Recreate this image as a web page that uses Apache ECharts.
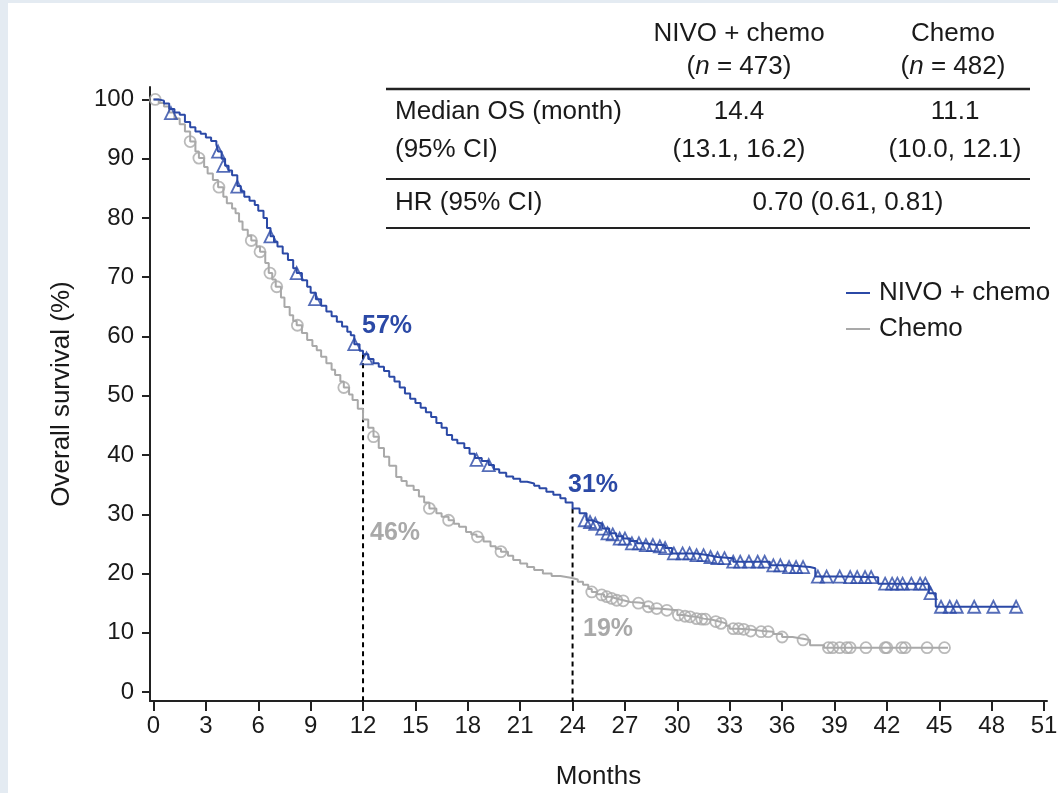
<!DOCTYPE html>
<html>
<head>
<meta charset="utf-8">
<script src="https://cdn.jsdelivr.net/npm/echarts@6/dist/echarts.min.js"></script>
<style>
  html, body { margin: 0; padding: 0; background: #e4ebf2; }
  #paper { position: absolute; left: 8px; top: 3px; width: 1050px; height: 790px; background: #fff; }
  #chart { position: absolute; left: 0; top: 0; width: 1058px; height: 793px; }
</style>
</head>
<body>
<div id="paper"></div>
<div id="chart"></div>
<script>
  // tick labels
  const monthTicks = [0, 3, 6, 9, 12, 15, 18, 21, 24, 27, 30, 33, 36, 39, 42, 45, 48, 51];
  const survivalTicks = [0, 10, 20, 30, 40, 50, 60, 70, 80, 90, 100];

  // KM curves: [month, survival %]
  const nivoCurve = [
    [0, 100], [0.3, 99.8], [0.6, 99.3], [0.9, 98.4], [1.2, 97.8], [1.5, 97.4], [1.8, 96.2],
    [2.1, 95.3], [2.4, 94.6], [2.7, 94.2], [3.0, 93.6], [3.3, 93.0], [3.6, 92.4], [3.7, 91.2],
    [3.9, 90.0], [4.1, 88.8], [4.3, 88.0], [4.5, 87.2], [4.8, 85.4], [5.0, 84.5], [5.2, 83.6],
    [5.5, 82.9], [5.8, 82.2], [6.0, 81.2], [6.3, 80.0], [6.5, 78.3], [6.7, 76.9], [6.9, 76.0],
    [7.1, 75.2], [7.4, 74.0], [7.7, 72.9], [8.0, 71.5], [8.2, 70.7], [8.5, 69.5], [8.8, 68.4],
    [9.0, 67.4], [9.3, 66.3], [9.6, 65.2], [9.9, 64.2], [10.2, 63.4], [10.5, 62.5], [10.8, 61.7],
    [11.1, 60.8], [11.3, 60.2], [11.5, 58.7], [11.8, 57.6], [12.0, 57.0], [12.3, 56.2], [12.6, 55.5],
    [12.9, 54.9], [13.2, 54.2], [13.5, 53.2], [13.8, 52.4], [14.1, 51.4], [14.4, 50.4], [14.7, 49.5],
    [15.0, 48.8], [15.3, 48.0], [15.6, 47.2], [15.9, 46.4], [16.2, 45.4], [16.5, 44.6], [16.8, 43.4],
    [17.1, 42.6], [17.4, 42.0], [17.8, 41.2], [18.1, 40.2], [18.4, 39.5], [18.8, 39.0], [19.2, 38.3],
    [19.5, 37.6], [19.8, 37.0], [20.2, 36.4], [20.6, 36.0], [21.0, 35.5], [21.4, 35.2], [21.8, 34.8],
    [22.1, 34.4], [22.5, 33.8], [22.9, 33.3], [23.3, 32.7], [23.6, 32.0], [24.0, 31.0], [24.4, 30.2],
    [24.8, 29.0], [25.1, 28.7], [25.4, 28.4], [25.7, 27.6], [26.1, 26.8], [26.5, 26.3], [26.9, 25.9],
    [27.3, 25.5], [27.7, 25.1], [28.2, 24.9], [28.6, 24.8], [29.3, 24.3], [29.7, 23.4], [31.1, 23.1],
    [31.8, 22.8], [32.3, 22.6], [33.2, 22.0], [35.3, 21.4], [36.3, 21.1], [37.6, 20.9], [37.9, 19.5],
    [39.6, 19.4], [41.5, 18.3], [44.4, 16.7], [44.8, 14.4], [49.5, 14.4]
  ];
  const chemoCurve = [
    [0, 100], [0.3, 99.4], [0.6, 98.8], [0.9, 97.8], [1.2, 96.8], [1.5, 95.8], [1.8, 94.6],
    [2.1, 92.9], [2.4, 91.2], [2.6, 90.1], [2.9, 88.6], [3.1, 87.5], [3.4, 86.4], [3.7, 85.2],
    [4.0, 83.6], [4.2, 82.5], [4.5, 81.6], [4.7, 80.8], [4.9, 79.4], [5.1, 78.0], [5.4, 77.0],
    [5.6, 76.2], [5.9, 75.2], [6.1, 74.3], [6.4, 72.4], [6.6, 70.7], [6.8, 69.6], [7.0, 68.4],
    [7.3, 66.6], [7.5, 65.0], [7.8, 63.6], [8.0, 62.6], [8.2, 61.9], [8.5, 60.6], [8.8, 59.4],
    [9.1, 58.4], [9.35, 57.7], [9.6, 56.6], [9.9, 55.5], [10.2, 54.4], [10.4, 53.5], [10.7, 52.4],
    [10.9, 51.4], [11.2, 50.2], [11.4, 49.3], [11.7, 47.8], [12.0, 46.0], [12.3, 44.6], [12.6, 43.1],
    [12.9, 41.2], [13.2, 39.7], [13.5, 38.2], [13.9, 36.3], [14.2, 35.6], [14.5, 34.8], [14.9, 34.1],
    [15.2, 33.0], [15.5, 32.0], [15.8, 31.0], [16.2, 30.2], [16.5, 29.6], [16.9, 29.0], [17.2, 28.4],
    [17.5, 27.9], [17.9, 27.0], [18.2, 26.6], [18.5, 26.2], [18.9, 25.4], [19.3, 24.6], [19.6, 24.2],
    [19.9, 23.7], [20.3, 23.0], [20.6, 22.3], [21.0, 21.7], [21.4, 21.1], [21.8, 20.6], [22.3, 20.0],
    [22.8, 19.6], [23.3, 19.3], [23.9, 19.0], [24.3, 18.6], [24.6, 18.1], [24.9, 17.4], [25.1, 16.9],
    [25.4, 16.5], [25.8, 16.1], [26.2, 15.8], [26.5, 15.5], [26.9, 15.2], [27.3, 15.1], [27.8, 15.0],
    [28.1, 14.5], [28.4, 14.1], [28.9, 14.0], [29.4, 13.8], [30.0, 13.0], [30.4, 12.8], [30.7, 12.7],
    [31.1, 12.4], [31.5, 12.2], [32.0, 11.9], [32.4, 11.6], [32.8, 11.2], [33.0, 10.7], [33.5, 10.6],
    [34.0, 10.5], [34.4, 10.3], [34.9, 10.2], [35.5, 9.8], [36.0, 9.3], [36.6, 9.0], [37.2, 8.8],
    [37.6, 7.9], [38.4, 7.5], [45.5, 7.5]
  ];

  // censoring marks
  const nivoCensored = [
    [1.0, 97.7], [3.7, 91.2], [4.0, 88.8], [4.8, 85.3], [6.7, 76.9], [8.2, 70.7], [9.25, 66.3],
    [11.5, 58.7], [12.2, 56.3], [18.5, 39.2], [19.2, 38.3],
    [24.7, 29.0], [25.0, 28.7], [25.3, 28.4], [25.7, 27.6], [26.0, 26.8], [26.3, 26.6], [26.7, 25.9],
    [27.0, 25.9], [27.4, 25.1], [27.8, 25.1], [28.2, 24.8], [28.6, 24.8], [29.0, 24.6], [29.3, 24.3],
    [29.8, 23.4], [30.3, 23.4], [30.7, 23.4], [31.1, 23.1], [31.5, 23.1], [31.9, 22.8], [32.3, 22.6],
    [32.7, 22.6], [33.2, 22.0], [33.6, 22.0], [34.1, 22.0], [34.6, 22.0], [35.0, 22.0], [35.5, 21.4],
    [35.9, 21.4], [36.4, 21.1], [36.8, 21.1], [37.2, 21.1], [38.05, 19.5], [38.55, 19.5], [39.3, 19.5],
    [39.9, 19.4], [40.3, 19.4], [40.75, 19.4], [41.1, 19.4], [41.9, 18.3], [42.3, 18.3], [42.6, 18.3],
    [42.9, 18.3], [43.4, 18.3], [43.9, 18.3], [44.2, 18.3], [44.5, 16.7], [45.1, 14.4], [45.6, 14.4],
    [46.0, 14.4], [47.0, 14.4], [48.1, 14.4], [49.4, 14.4]
  ];
  const chemoCensored = [
    [0.1, 100], [2.1, 92.9], [2.6, 90.1], [3.75, 85.2], [5.6, 76.2], [6.1, 74.3], [6.67, 70.7],
    [7.06, 68.4], [8.24, 61.9], [10.9, 51.4], [12.6, 43.1], [15.8, 31.0], [16.9, 29.0], [18.55, 26.2],
    [19.9, 23.7], [25.1, 16.9], [25.67, 16.4], [25.96, 16.1], [26.24, 15.8], [26.53, 15.5], [26.9, 15.4],
    [27.77, 15.0], [28.34, 14.4], [28.82, 14.1], [29.4, 13.8], [30.06, 13.0], [30.44, 12.8], [30.73, 12.7],
    [31.1, 12.4], [31.4, 12.3], [31.6, 12.3], [32.2, 11.9], [32.5, 11.6], [33.2, 10.7], [33.5, 10.7],
    [33.8, 10.6], [34.2, 10.3], [34.8, 10.2], [35.2, 10.2], [36.0, 9.3], [37.2, 8.8], [38.65, 7.5],
    [38.9, 7.5], [39.3, 7.5], [39.7, 7.5], [39.9, 7.5], [40.8, 7.5], [41.9, 7.5], [42.0, 7.5],
    [42.85, 7.5], [43.05, 7.5], [44.3, 7.5], [45.3, 7.5]
  ];

  // landmark survival at 12 and 24 months
  const landmarkMonths = [12, 24];
  const nivoLandmark = [57, 31];
  const chemoLandmark = [46, 19];

  const blue = '#2b49a6';
  const grey = '#a9a9a9';
  const ink = '#1a1a1a';
  const font = 'Liberation Sans, Arial, Helvetica, sans-serif';
  const yMin = -1.5;

  const myChart = echarts.init(document.getElementById('chart'));

  const dropLines = [];
  landmarkMonths.forEach((m, i) => {
    dropLines.push({
      type: 'line',
      data: [[m, nivoLandmark[i]], [m, yMin]],
      symbol: 'none',
      silent: true,
      z: 1,
      lineStyle: {color: '#000', width: 2, type: [5, 4]}
    });
  });

  const txt = (x, y, text, extra) => ({
    type: 'text', x: x, y: y,
    style: Object.assign({text: text, fill: ink, font: '26px ' + font, textVerticalAlign: 'middle'}, extra || {})
  });
  const nText = (x, y, n) => ({
    type: 'text', x: x, y: y,
    style: {
      text: '({i|n} = ' + n + ')', fill: ink, font: '26px ' + font, textAlign: 'center', textVerticalAlign: 'middle',
      rich: {i: {fontStyle: 'italic', fontSize: 26, fontFamily: font, fill: ink}}
    }
  });
  const rule = (y, w) => ({
    type: 'line', shape: {x1: 386, y1: y, x2: 1030, y2: y},
    style: {stroke: '#222', lineWidth: w}
  });

  const option = {
    animation: false,
    textStyle: {fontFamily: font},
    grid: {left: 150, right: 11, top: 87, bottom: 92, outerBoundsMode: 'none', containLabel: false},
    legend: {
      data: ['NIVO + chemo', 'Chemo'],
      orient: 'vertical',
      left: 841, top: 275,
      icon: 'rect', itemWidth: 24, itemHeight: 2, itemGap: 10,
      textStyle: {fontSize: 26, color: ink, padding: [0, 0, 0, 4]}
    },
    xAxis: {
      type: 'value', min: -0.2, max: 51.17,
      name: 'Months', nameLocation: 'middle', nameGap: 63,
      nameTextStyle: {fontSize: 26, color: ink},
      splitLine: {show: false},
      axisLine: {onZero: false, lineStyle: {color: '#222', width: 2}},
      axisTick: {length: 10, lineStyle: {color: '#222', width: 2}, customValues: monthTicks},
      axisLabel: {fontSize: 24, color: ink, margin: 13, customValues: monthTicks}
    },
    yAxis: {
      type: 'value', min: yMin, max: 102.1,
      name: 'Overall survival (%)', nameLocation: 'middle', nameGap: 75, nameRotate: 90,
      nameTextStyle: {fontSize: 26, color: ink},
      splitLine: {show: false},
      axisLine: {onZero: false, lineStyle: {color: '#222', width: 2}},
      axisTick: {length: 8, lineStyle: {color: '#222', width: 2}, customValues: survivalTicks},
      axisLabel: {fontSize: 24, color: ink, margin: 16, customValues: survivalTicks}
    },
    series: [
      ...dropLines,
      {
        name: 'Chemo', type: 'line', step: 'end', data: chemoCurve, symbol: 'none', z: 2,
        color: grey, lineStyle: {color: grey, width: 2}
      },
      {
        name: 'Chemo censored', type: 'scatter', data: chemoCensored, symbol: 'circle', symbolSize: 11, z: 3,
        itemStyle: {color: 'rgba(255,255,255,0)', borderColor: grey, borderWidth: 1.8}
      },
      {
        name: 'NIVO + chemo', type: 'line', step: 'end', data: nivoCurve, symbol: 'none', z: 4,
        color: blue, lineStyle: {color: blue, width: 2}
      },
      {
        name: 'NIVO censored', type: 'scatter', data: nivoCensored, symbol: 'triangle', symbolSize: 12, z: 5,
        itemStyle: {color: 'rgba(255,255,255,0)', borderColor: blue, borderWidth: 1.8}
      }
    ],
    graphic: [
      // table
      txt(739, 34, 'NIVO + chemo', {textAlign: 'center'}),
      nText(739, 67, 473),
      txt(953, 34, 'Chemo', {textAlign: 'center'}),
      nText(953, 67, 482),
      rule(89, 2.5),
      txt(395, 112, 'Median OS (month)'),
      txt(395, 150, '(95% CI)'),
      txt(739, 112, '14.4', {textAlign: 'center'}),
      txt(739, 150, '(13.1, 16.2)', {textAlign: 'center'}),
      txt(955, 112, '11.1', {textAlign: 'center'}),
      txt(955, 150, '(10.0, 12.1)', {textAlign: 'center'}),
      rule(179, 2),
      txt(395, 203, 'HR (95% CI)'),
      txt(848, 203, '0.70 (0.61, 0.81)', {textAlign: 'center'}),
      rule(228, 2),
      // landmark labels
      txt(362, 326, '57%', {fill: blue, font: 'bold 25px ' + font}),
      txt(568, 485, '31%', {fill: blue, font: 'bold 25px ' + font}),
      txt(370, 533, '46%', {fill: grey, font: 'bold 25px ' + font}),
      txt(583, 629, '19%', {fill: grey, font: 'bold 25px ' + font})
    ]
  };

  myChart.setOption(option);
</script>
</body>
</html>
